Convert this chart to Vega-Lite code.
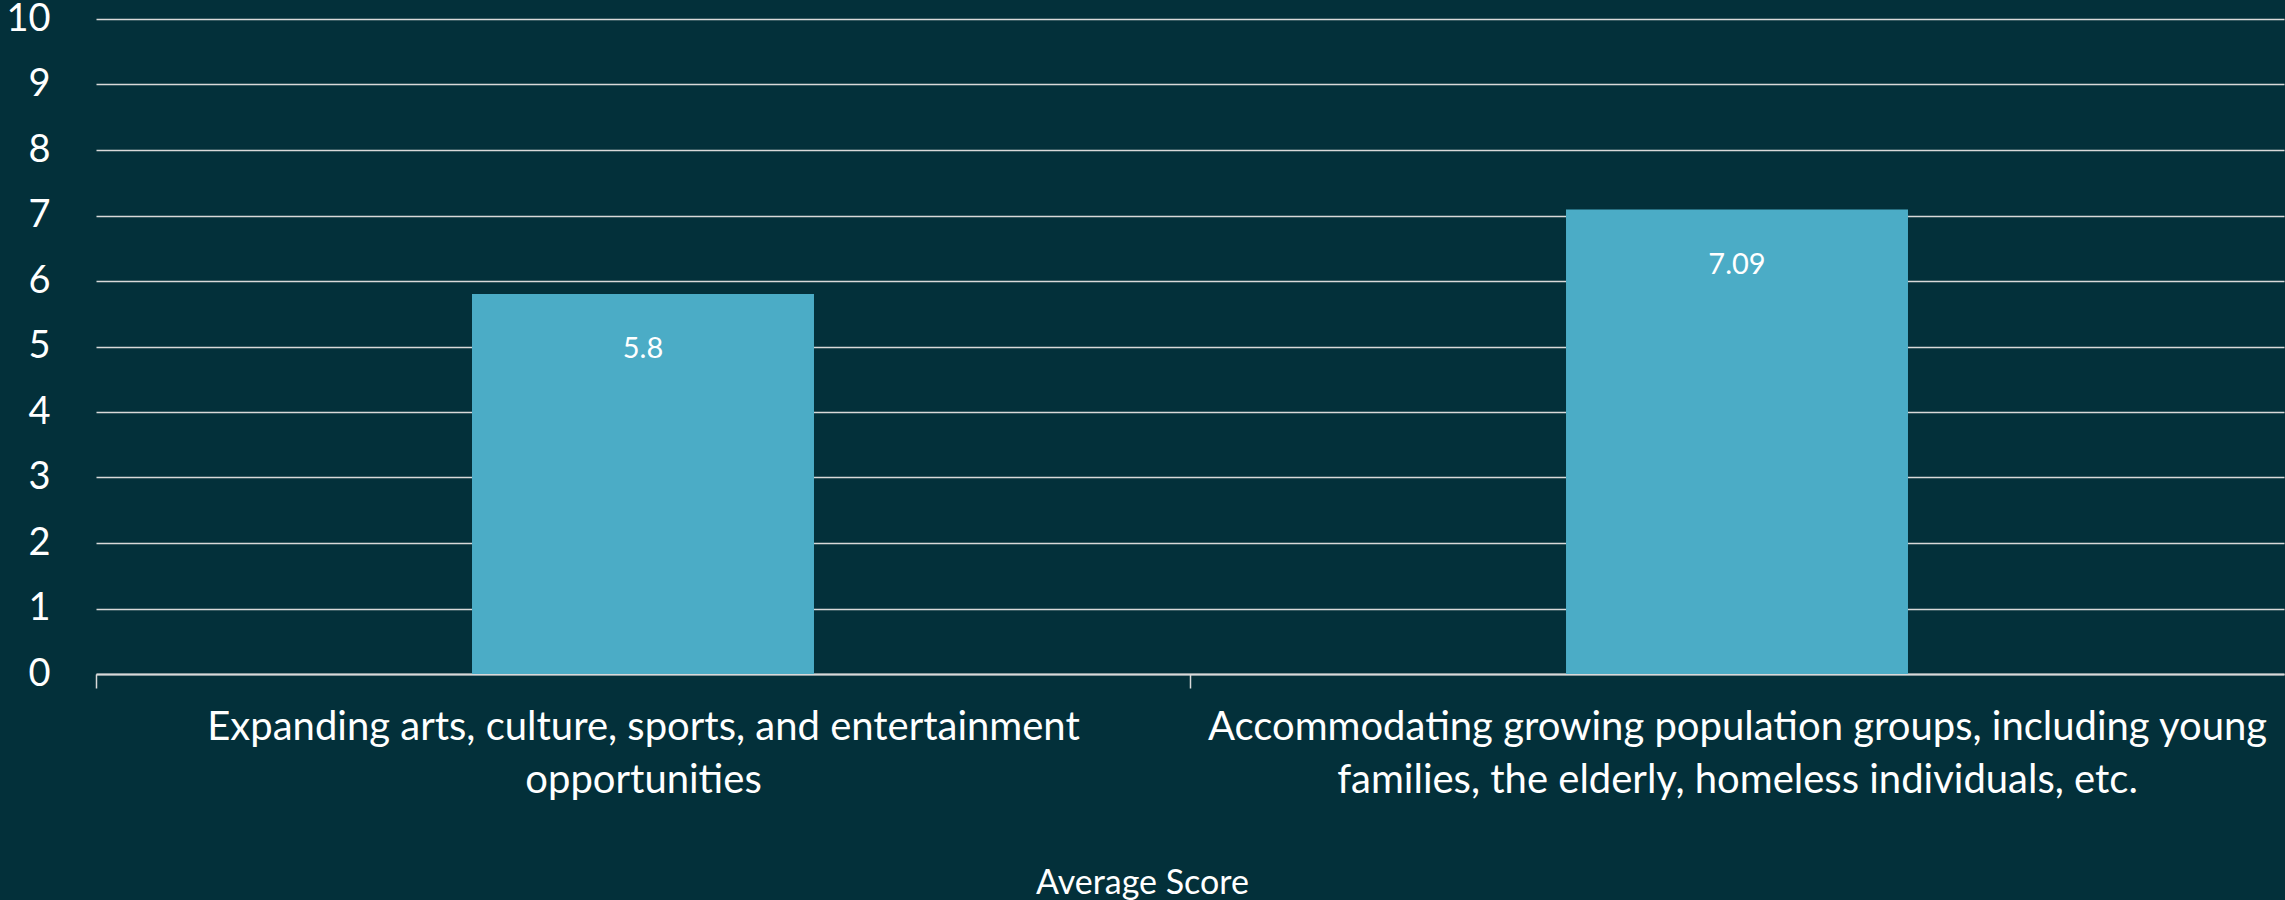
{
  "$schema": "https://vega.github.io/schema/vega-lite/v6.json",
  "autosize": "none",
  "width": 2188,
  "height": 655,
  "padding": {"left": 96, "top": 19, "right": 1, "bottom": 226},
  "background": "#03303A",
  "config": {
    "view": {"stroke": null},
    "font": "Lato"
  },
  "data": {
    "values": [
      {"category": "Expanding arts, culture, sports, and entertainment opportunities", "score": 5.8},
      {"category": "Accommodating growing population groups, including young families, the elderly, homeless individuals, etc.", "score": 7.09}
    ]
  },
  "encoding": {
    "x": {
      "field": "category",
      "type": "nominal",
      "sort": null,
      "scale": {"paddingInner": 0.6874, "paddingOuter": 0.3437},
      "axis": {
        "title": "Average Score",
        "titleColor": "#FFFFFF",
        "titleFont": "Lato",
        "titleFontSize": 34,
        "titleFontWeight": "normal",
        "titleX": 1046,
        "titleY": 219,
        "titleBaseline": "alphabetic",
        "labelAngle": 0,
        "labelColor": "#FFFFFF",
        "labelFont": "Lato",
        "labelFontSize": 40,
        "labelLineHeight": 53,
        "labelPadding": 19,
        "labelLimit": 0,
        "labelBaseline": "top",
        "labelExpr": "indexof(datum.value, 'Expanding') == 0 ? ['Expanding arts, culture, sports, and entertainment', 'opportunities'] : ['Accommodating growing population groups, including young', 'families, the elderly, homeless individuals, etc.']",
        "bandPosition": 0,
        "tickOffset": -376,
        "labelOffset": 376,
        "ticks": true,
        "tickSize": 14,
        "tickColor": "#D9D9D9",
        "tickWidth": 1.5,
        "domain": true,
        "domainColor": "#D9D9D9",
        "domainWidth": 2,
        "grid": false
      }
    },
    "y": {
      "field": "score",
      "type": "quantitative",
      "scale": {"domain": [0, 10], "nice": false},
      "axis": {
        "title": null,
        "values": [0, 1, 2, 3, 4, 5, 6, 7, 8, 9, 10],
        "labelColor": "#FFFFFF",
        "labelFont": "Lato",
        "labelFontSize": 38,
        "labelPadding": 46,
        "ticks": false,
        "domain": false,
        "grid": true,
        "gridColor": "#D9D9D9",
        "gridWidth": 1.5
      }
    }
  },
  "layer": [
    {
      "mark": {"type": "bar", "color": "#4BACC6"}
    },
    {
      "mark": {"type": "text", "color": "#FFFFFF", "font": "Lato", "fontSize": 29, "baseline": "middle", "align": "center", "dy": 55},
      "encoding": {
        "text": {"field": "score", "type": "quantitative"}
      }
    }
  ]
}
